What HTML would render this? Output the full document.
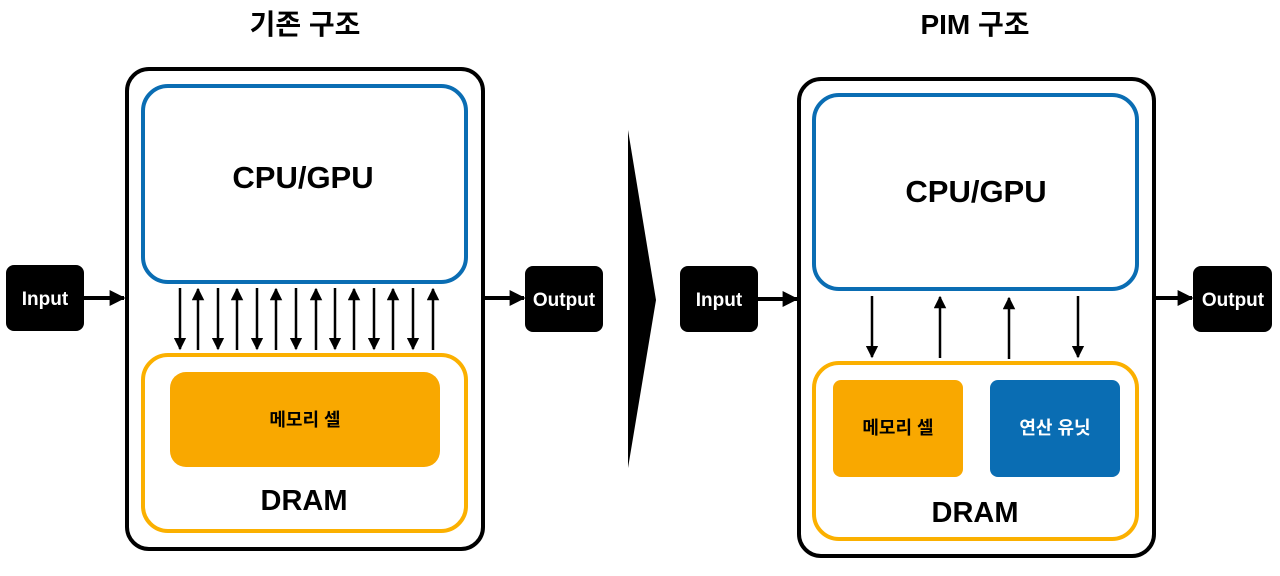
<!DOCTYPE html>
<html><head><meta charset="utf-8"><style>html,body{margin:0;padding:0;background:#fff}svg{display:block}text{font-family:"Liberation Sans","Noto Sans CJK KR",sans-serif;font-weight:bold;text-anchor:middle}</style></head><body>
<svg width="1280" height="576" viewBox="0 0 1280 576" xmlns="http://www.w3.org/2000/svg">
<defs>
<marker id="ah" viewBox="0 0 10 10" refX="9" refY="5" markerWidth="4" markerHeight="4" orient="auto" markerUnits="strokeWidth"><path d="M0,0 L10,5 L0,10 z" fill="#000"/></marker>
<marker id="sh" viewBox="0 0 10 10" refX="9" refY="5" markerWidth="5" markerHeight="5" orient="auto" markerUnits="strokeWidth"><path d="M0,0 L10,5 L0,10 z" fill="#000"/></marker>
</defs>
<text x="305" y="34" font-size="28">기존 구조</text>
<text x="975" y="34" font-size="28">PIM 구조</text>
<rect x="127" y="69" width="356" height="480" rx="22" fill="#fff" stroke="#000" stroke-width="4"/>
<rect x="143" y="86" width="323" height="196" rx="25" fill="#fff" stroke="#0a6db3" stroke-width="4"/>
<text x="303" y="188" font-size="31">CPU/GPU</text>
<rect x="143" y="355" width="323" height="176" rx="25" fill="#fff" stroke="#fbb000" stroke-width="4"/>
<rect x="170" y="372" width="270" height="95" rx="16" fill="#f9a800"/>
<text x="305" y="426" font-size="18">메모리 셀</text>
<text x="304" y="510" font-size="29">DRAM</text>
<g stroke="#000" stroke-width="2.5" marker-end="url(#sh)">
<line x1="180" y1="288" x2="180" y2="349"/><line x1="198" y1="350" x2="198" y2="289"/>
<line x1="218" y1="288" x2="218" y2="349"/><line x1="237" y1="350" x2="237" y2="289"/>
<line x1="257" y1="288" x2="257" y2="349"/><line x1="276" y1="350" x2="276" y2="289"/>
<line x1="296" y1="288" x2="296" y2="349"/><line x1="316" y1="350" x2="316" y2="289"/>
<line x1="335" y1="288" x2="335" y2="349"/><line x1="354" y1="350" x2="354" y2="289"/>
<line x1="374" y1="288" x2="374" y2="349"/><line x1="393" y1="350" x2="393" y2="289"/>
<line x1="413" y1="288" x2="413" y2="349"/><line x1="433" y1="350" x2="433" y2="289"/>
</g>
<rect x="6" y="265" width="78" height="66" rx="8" fill="#000"/>
<text x="45" y="305" font-size="19" fill="#fff" font-weight="normal">Input</text>
<line x1="84" y1="298" x2="124" y2="298" stroke="#000" stroke-width="4" marker-end="url(#ah)"/>
<rect x="525" y="266" width="78" height="66" rx="8" fill="#000"/>
<text x="564" y="306" font-size="19" fill="#fff" font-weight="normal">Output</text>
<line x1="484" y1="298" x2="524" y2="298" stroke="#000" stroke-width="4" marker-end="url(#ah)"/>
<polygon points="628,130 656,300 628,468" fill="#000"/>
<rect x="799" y="79" width="355" height="477" rx="22" fill="#fff" stroke="#000" stroke-width="4"/>
<rect x="814" y="95" width="323" height="194" rx="25" fill="#fff" stroke="#0a6db3" stroke-width="4"/>
<text x="976" y="202" font-size="31">CPU/GPU</text>
<rect x="814" y="363" width="323" height="176" rx="25" fill="#fff" stroke="#fbb000" stroke-width="4"/>
<rect x="833" y="380" width="130" height="97" rx="8" fill="#f9a800"/>
<text x="898" y="434" font-size="18">메모리 셀</text>
<rect x="990" y="380" width="130" height="97" rx="8" fill="#0a6db3"/>
<text x="1055" y="434" font-size="18" fill="#fff">연산 유닛</text>
<text x="975" y="522" font-size="29">DRAM</text>
<g stroke="#000" stroke-width="2.5" marker-end="url(#sh)">
<line x1="872" y1="296" x2="872" y2="357"/><line x1="940" y1="358" x2="940" y2="297"/>
<line x1="1009" y1="359" x2="1009" y2="298"/><line x1="1078" y1="296" x2="1078" y2="357"/>
</g>
<rect x="680" y="266" width="78" height="66" rx="8" fill="#000"/>
<text x="719" y="306" font-size="19" fill="#fff" font-weight="normal">Input</text>
<line x1="758" y1="299" x2="797" y2="299" stroke="#000" stroke-width="4" marker-end="url(#ah)"/>
<rect x="1193" y="266" width="79" height="66" rx="8" fill="#000"/>
<text x="1233" y="306" font-size="19" fill="#fff" font-weight="normal">Output</text>
<line x1="1155" y1="298" x2="1192" y2="298" stroke="#000" stroke-width="4" marker-end="url(#ah)"/>
</svg>
</body></html>
